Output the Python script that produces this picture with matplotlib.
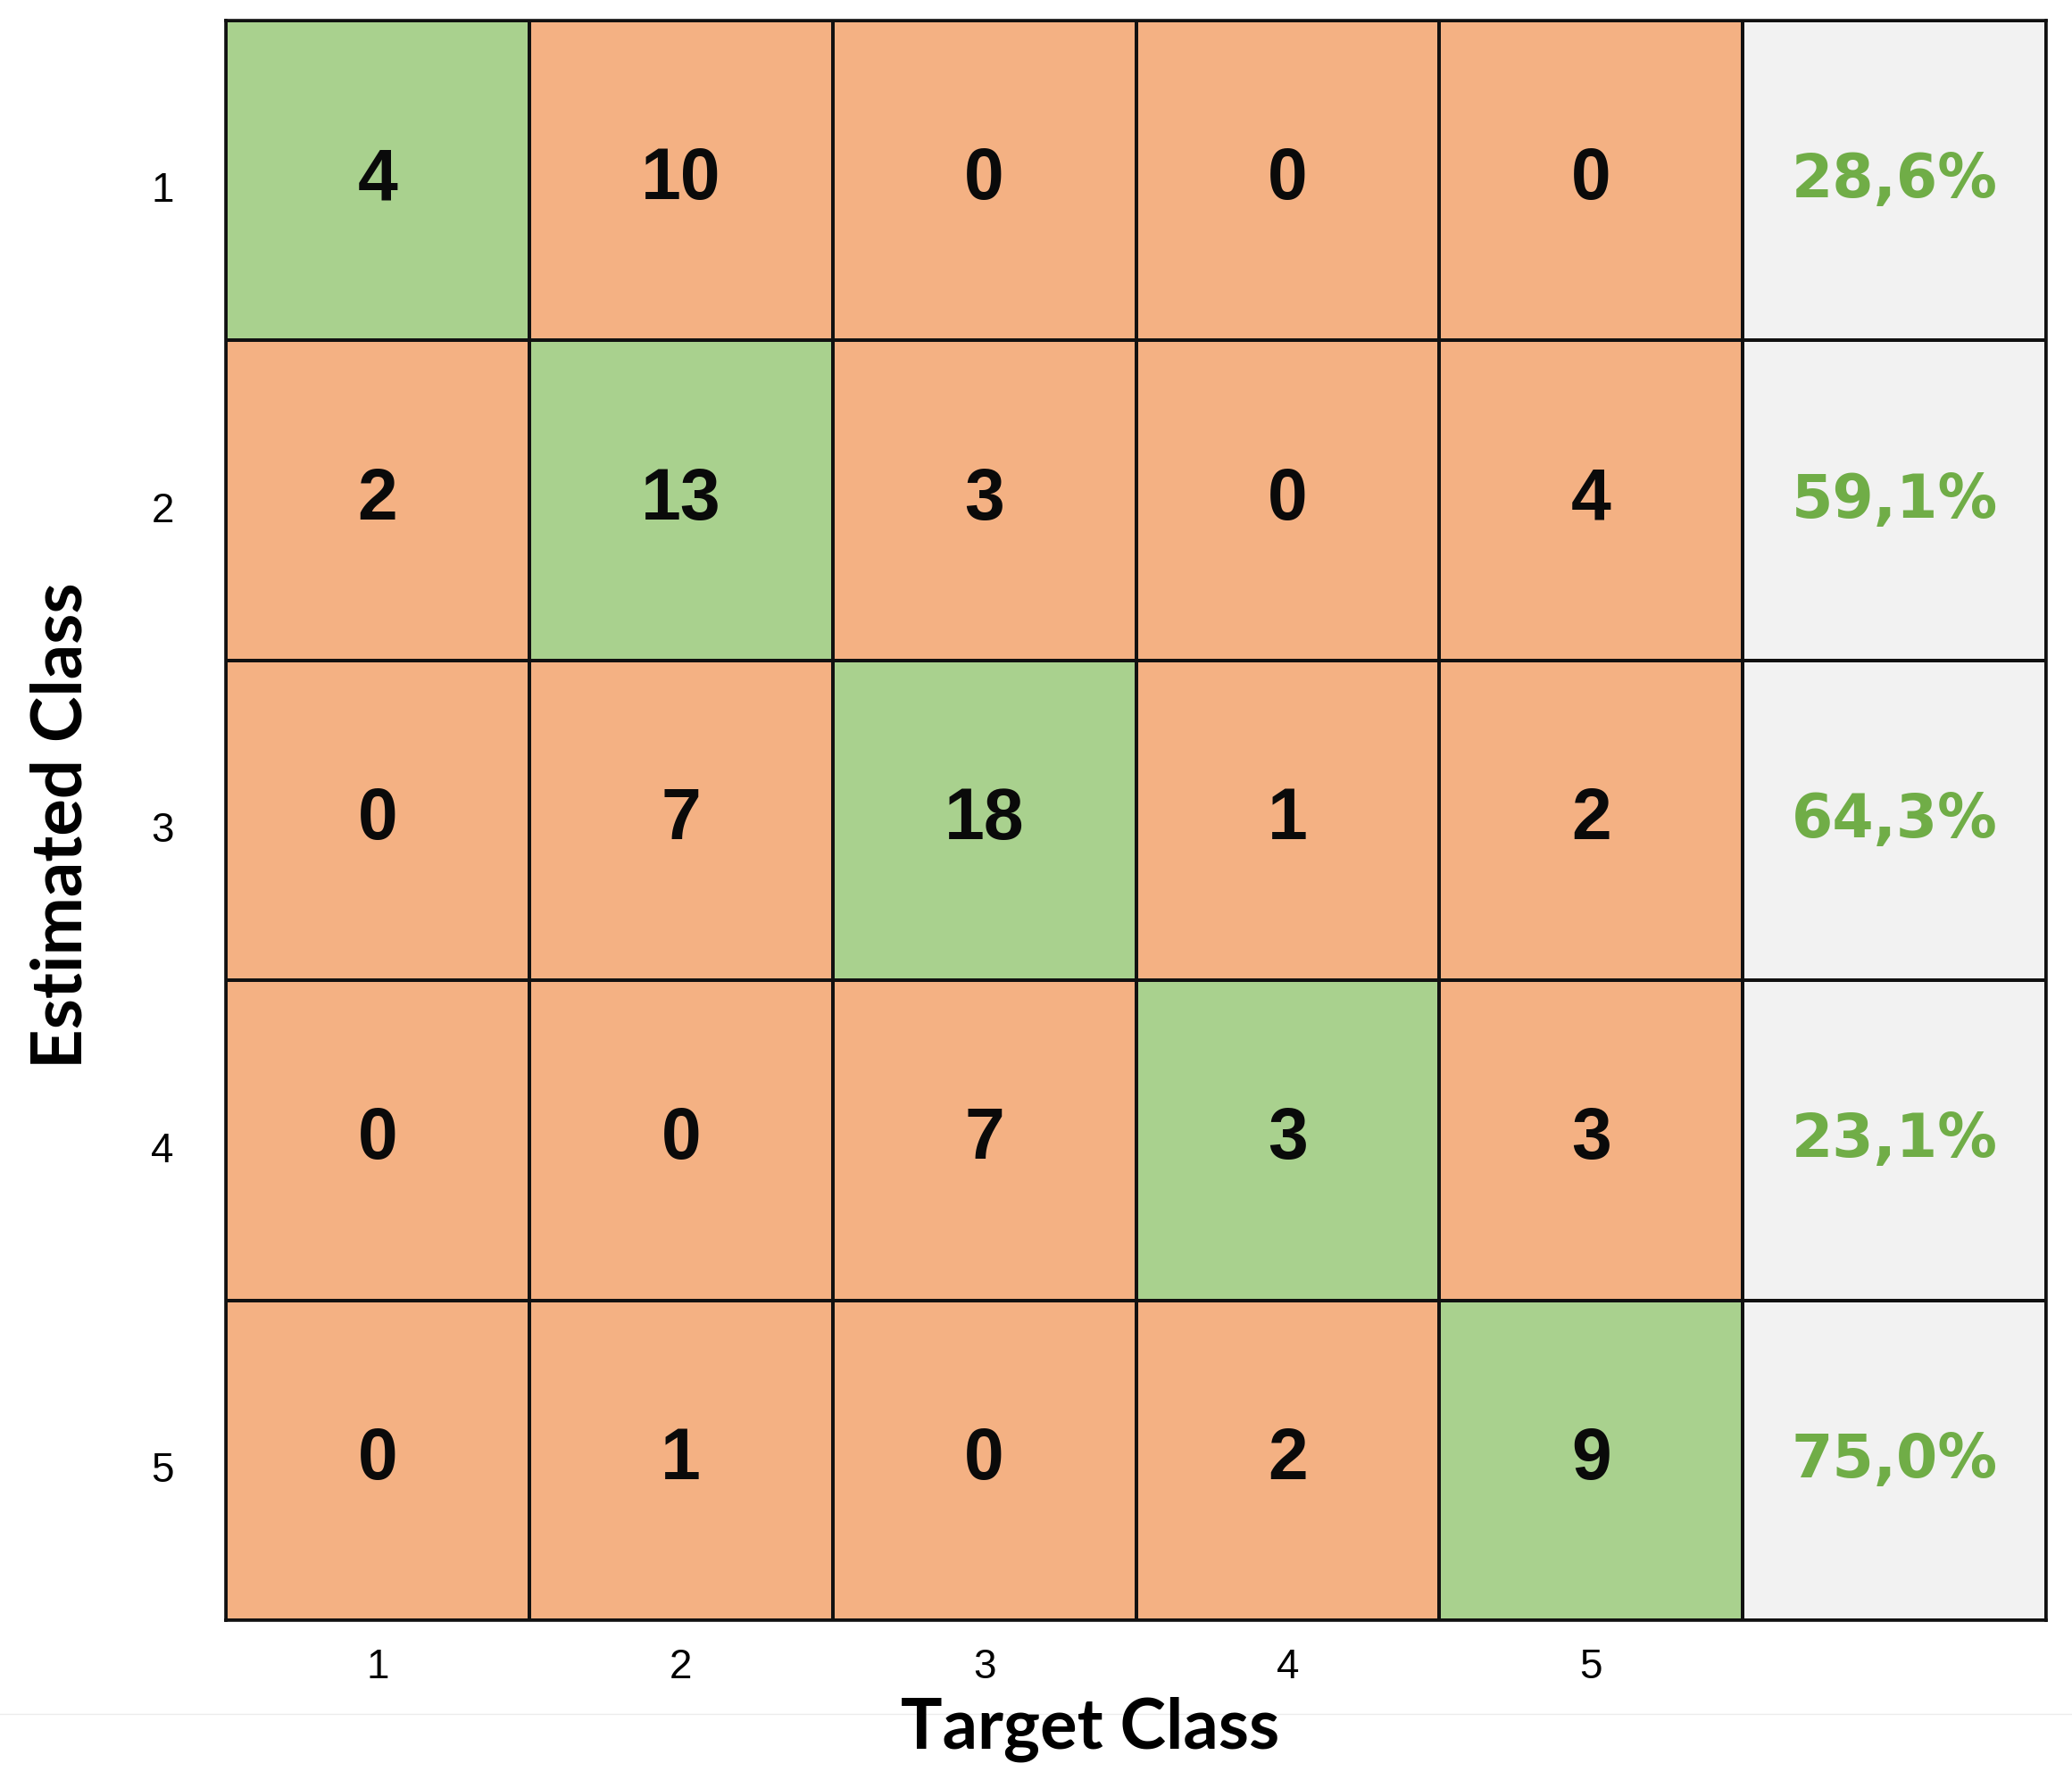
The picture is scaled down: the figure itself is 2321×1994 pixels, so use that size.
import matplotlib
matplotlib.use("Agg")
import matplotlib.pyplot as plt
from matplotlib.colors import ListedColormap
from matplotlib.lines import Line2D
from matplotlib import font_manager
import numpy as np

# ---- data ----
classes = ["1", "2", "3", "4", "5"]
confusion = [
    [4, 10, 0, 0, 0],
    [2, 13, 3, 0, 4],
    [0, 7, 18, 1, 2],
    [0, 0, 7, 3, 3],
    [0, 1, 0, 2, 9],
]
row_precision = ["28,6%", "59,1%", "64,3%", "23,1%", "75,0%"]
x_label = "Target Class"
y_label = "Estimated Class"

# ---- styles ----
GREEN = "#A9D18E"
ORANGE = "#F4B183"
GRAY = "#F2F2F2"
PCT_COLOR = "#70AD47"

names = {f.name for f in font_manager.fontManager.ttflist}
tick_family = ["Liberation Sans Narrow"] if "Liberation Sans Narrow" in names else ["Liberation Sans"]
tick_size = 36 if tick_family[0] == "Liberation Sans Narrow" else 33

W, H = 2321, 1994
DPI = 100
fig = plt.figure(figsize=(W / DPI, H / DPI), dpi=DPI)
ax = fig.add_axes([253 / W, 1 - 1815 / H, (2292 - 253) / W, (1815 - 23) / H])

n = len(classes)
cm = np.array(confusion)
cat = np.zeros((n, n + 1), dtype=int)
for i in range(n):
    for j in range(n):
        cat[i, j] = 0 if i == j else 1
    cat[i, n] = 2
cmap = ListedColormap([GREEN, ORANGE, GRAY])
ax.pcolormesh(np.arange(n + 2), np.arange(n + 1), cat, cmap=cmap, vmin=-0.5, vmax=2.5,
              edgecolors="#111111", linewidth=1.6)
ax.set_xlim(0, n + 1)
ax.set_ylim(n, 0)

for i in range(n):
    for j in range(n):
        ax.text(j + 0.5, i + 0.5, str(cm[i, j]), ha="center", va="center",
                fontsize=58, fontweight="bold", family=["Liberation Sans", "DejaVu Sans"],
                color="#0a0a0a")
    ax.text(n + 0.5, i + 0.5, row_precision[i], ha="center", va="center",
            fontsize=48, fontweight="bold", family=["DejaVu Sans"], color=PCT_COLOR)

for s in ax.spines.values():
    s.set_linewidth(2.6)
    s.set_color("#111111")

ax.set_xticks(np.arange(n) + 0.5)
ax.set_xticklabels(classes, fontsize=tick_size, family=tick_family)
ax.set_yticks(np.arange(n) + 0.52)
ax.set_yticklabels(classes, fontsize=tick_size, family=tick_family)
ax.tick_params(axis="both", length=0)
ax.tick_params(axis="x", pad=22)
ax.tick_params(axis="y", pad=42)

fig.text(1221 / W, 1 - 1937 / H, x_label, ha="center", va="center", fontsize=56,
         fontweight="bold", family=["Lato", "DejaVu Sans"], zorder=3)
fig.text(70 / W, 1 - 925 / H, y_label, ha="center", va="center", rotation=90, fontsize=56,
         fontweight="bold", family=["Lato", "DejaVu Sans"], zorder=3)

# faint separator line near the bottom
fig.add_artist(Line2D([0, 1], [1 - 1920 / H, 1 - 1920 / H], transform=fig.transFigure,
                      color="#ececec", linewidth=1.0, zorder=1))

fig.savefig("out.png", dpi=DPI, facecolor="white")
